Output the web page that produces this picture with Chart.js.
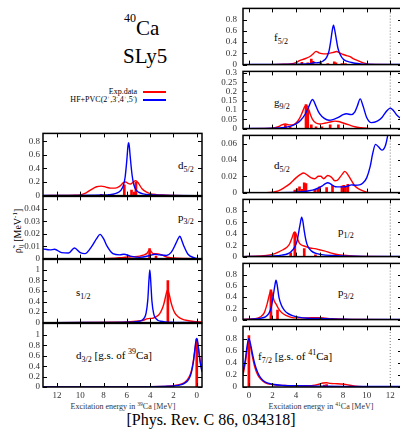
<!DOCTYPE html>
<html>
<head>
<meta charset="utf-8">
<script src="https://cdn.jsdelivr.net/npm/chart.js@4.4.0/dist/chart.umd.min.js"></script>
<style>
html, body { margin:0; padding:0; background:#fff; }
body { width:400px; height:430px; overflow:hidden; position:relative; }
canvas { position:absolute; }
.t { position:absolute; font-family:"Liberation Serif", serif; color:#000; white-space:nowrap; line-height:1; }
.t sub, .t sup { line-height:0; }
.p { font-size:11px; }
.p sub { font-size:8px; vertical-align:-3px; }
.p sup { font-size:8px; vertical-align:5px; }
.lg { font-size:8px; text-align:right; right:263px; }
.lg sup { font-size:5px; vertical-align:3px; }
.ln { position:absolute; left:143px; width:23px; height:1.5px; }
.xt { font-size:8px; transform:translateX(-50%); color:#333; }
.xt sup { font-size:5.5px; vertical-align:3px; }
</style>
</head>
<body>
<div class="t" style="left:124px;top:18px;font-size:21px"><sup style="font-size:12px;vertical-align:13px">40</sup>Ca</div>
<div class="t" style="left:123px;top:46px;font-size:21px">SLy5</div>
<div class="t lg" style="top:88px">Exp.data</div>
<div class="t lg" style="top:96px">HF+PVC(2<sup>+</sup>,3<sup>-</sup>,4<sup>+</sup>,5<sup>-</sup>)</div>
<div class="ln" style="top:91px;background:#f00"></div>
<div class="ln" style="top:99px;background:#00f"></div>
<div class="t" style="left:18px;top:231px;font-size:10px;transform:translate(-50%,-50%) rotate(-90deg)">ρ̃<sub style="font-size:7px;vertical-align:-2px">ij</sub> [MeV<sup style="font-size:7px;vertical-align:4px">-1</sup>]</div>
<div class="t p" style="left:178px;top:160px">d<sub>5/2</sub></div>
<div class="t p" style="left:178px;top:212px">p<sub>3/2</sub></div>
<div class="t p" style="left:76px;top:287px">s<sub>1/2</sub></div>
<div class="t p" style="left:76px;top:350px">d<sub>3/2</sub> [g.s. of <sup>39</sup>Ca]</div>
<div class="t p" style="left:274px;top:32px">f<sub>5/2</sub></div>
<div class="t p" style="left:274px;top:97px">g<sub>9/2</sub></div>
<div class="t p" style="left:274px;top:160px">d<sub>5/2</sub></div>
<div class="t p" style="left:338px;top:226px">p<sub>1/2</sub></div>
<div class="t p" style="left:338px;top:287px">p<sub>3/2</sub></div>
<div class="t p" style="left:258px;top:351px">f<sub>7/2</sub> [g.s. of <sup>41</sup>Ca]</div>
<div class="t xt" style="left:123px;top:403px">Excitation energy in <sup>39</sup>Ca [MeV]</div>
<div class="t xt" style="left:321px;top:403px">Excitation energy in <sup>41</sup>Ca [MeV]</div>
<div class="t" style="left:211px;top:412px;font-size:16px;transform:translateX(-50%)">[Phys. Rev. C 86, 034318]</div>
<script>
// ---- 39Ca (hole states), energies in MeV ----
const L_d52_hfE = [-0.45, 0, 2, 3, 4, 4.6, 5.0, 5.2, 5.4, 5.55, 5.7, 5.8, 5.85, 5.9, 6.0, 6.15, 6.3, 6.5, 6.7, 7.0, 7.5, 8, 9, 11, 13.2];
const L_d52_hf = [0, 0, 0.002, 0.005, 0.012, 0.025, 0.05, 0.08, 0.16, 0.3, 0.55, 0.74, 0.78, 0.74, 0.53, 0.27, 0.15, 0.08, 0.05, 0.028, 0.013, 0.008, 0.005, 0.003, 0.002];
const L_d52_expE = [-0.45, 0, 2, 3, 3.5, 4.0, 4.3, 4.7, 5.0, 5.25, 5.45, 5.7, 5.9, 6.1, 6.3, 6.6, 7.0, 7.4, 7.8, 8.2, 8.6, 9.1, 9.5, 10.0, 10.5, 11, 13.2];
const L_d52_exp = [0, 0, 0.003, 0.008, 0.015, 0.03, 0.05, 0.1, 0.18, 0.22, 0.2, 0.17, 0.18, 0.2, 0.19, 0.14, 0.11, 0.11, 0.125, 0.14, 0.13, 0.085, 0.04, 0.01, 0.005, 0.003, 0];
const L_d52_barE = [5.22, 5.37, 5.6, 6.22, 7.2, 7.5, 8.2];
const L_d52_bar = [0.2, 0.05, 0.08, 0.16, 0.015, 0.02, 0.02];

const L_p32_hfE = [-0.45, -0.2, 0.3, 0.75, 1.1, 1.3, 1.45, 1.6, 1.8, 2.2, 2.6, 3.2, 3.6, 4.0, 4.9, 5.7, 6.25, 6.6, 7.2, 7.7, 8.0, 8.3, 8.6, 9.0, 9.6, 10.0, 10.5, 11.0, 11.6, 12.2, 12.6, 13.2];
const L_p32_hf = [0, 0, 0.001, 0.0035, 0.01, 0.015, 0.018, 0.016, 0.012, 0.005, 0.0025, 0.003, 0.0035, 0.0025, 0.001, 0.002, 0.0035, 0.003, 0.004, 0.01, 0.016, 0.0195, 0.016, 0.01, 0.004, 0.0048, 0.0085, 0.0045, 0.0048, 0.0075, 0.007, 0.0078];
const L_p32_expE = [-0.45, 0, 1.0, 2.0, 2.6, 3.0, 3.3, 3.55, 3.75, 3.9, 4.03, 4.15, 4.3, 4.6, 4.9, 5.5, 6.3, 7.0, 8.0, 13.2];
const L_p32_exp = [0, 0, 0.0001, 0.0005, 0.0013, 0.003, 0.0038, 0.004, 0.004, 0.0055, 0.007, 0.006, 0.004, 0.0028, 0.002, 0.0015, 0.001, 0.0003, 0, 0];
const L_p32_barE = [3.5, 4.05];
const L_p32_bar = [0.002, 0.008];

const L_s12_hfE = [-0.45, 0, 1, 2, 2.7, 3.1, 3.35, 3.55, 3.7, 3.85, 3.95, 4.03, 4.1, 4.2, 4.35, 4.5, 4.7, 5.0, 5.5, 6, 8, 10, 13.2];
const L_s12_hf = [0, 0.001, 0.002, 0.005, 0.012, 0.025, 0.045, 0.09, 0.17, 0.41, 0.78, 1.0, 0.82, 0.44, 0.18, 0.09, 0.045, 0.023, 0.01, 0.006, 0.002, 0.001, 0];
const L_s12_expE = [-0.45, 0, 0.4, 0.8, 1.2, 1.6, 1.9, 2.1, 2.25, 2.4, 2.5, 2.6, 2.75, 2.9, 3.1, 3.3, 3.6, 3.85, 4.0, 4.3, 4.5, 5, 6, 7, 9, 13.2];
const L_s12_exp = [0.012, 0.018, 0.025, 0.04, 0.06, 0.11, 0.19, 0.3, 0.42, 0.57, 0.62, 0.57, 0.42, 0.3, 0.2, 0.14, 0.1, 0.08, 0.08, 0.07, 0.05, 0.03, 0.012, 0.006, 0.002, 0];
const L_s12_barE = [2.48];
const L_s12_bar = [0.8];

const L_d32_hfE = [-0.45, -0.3, -0.2, -0.1, 0, 0.1, 0.2, 0.3, 0.45, 0.6, 0.8, 1.0, 1.3, 1.6, 2.0, 2.5, 3.0, 4.0, 5.0, 6.0, 8.0, 10.0, 13.2];
const L_d32_hf = [0.29, 0.465, 0.64, 0.84, 0.93, 0.84, 0.64, 0.465, 0.29, 0.186, 0.115, 0.078, 0.047, 0.032, 0.02, 0.013, 0.009, 0.005, 0.003, 0.002, 0.001, 0.0008, 0.0005];
const L_d32_expE = [-0.45, -0.3, -0.2, -0.1, 0, 0.1, 0.2, 0.3, 0.45, 0.6, 0.8, 1.0, 1.3, 1.6, 2.0, 2.5, 3.0, 4.0, 5.0, 6.0, 8.0, 10.0, 13.2];
const L_d32_exp = [0.32, 0.49, 0.65, 0.8, 0.86, 0.8, 0.65, 0.49, 0.32, 0.22, 0.14, 0.096, 0.06, 0.04, 0.026, 0.017, 0.012, 0.007, 0.004, 0.003, 0.002, 0.001, 0.0005];
const L_d32_barE = [0];
const L_d32_bar = [0.92];

// ---- 41Ca (particle states) ----
const R_f52_hfE = [-0.5, 2, 4, 4.8, 5.3, 5.5, 5.7, 6.0, 6.3, 6.6, 6.8, 6.95, 7.05, 7.18, 7.3, 7.4, 7.55, 7.75, 8.0, 8.3, 8.6, 9.0, 9.5, 10, 11, 12, 13];
const R_f52_hf = [0, 0.002, 0.006, 0.01, 0.02, 0.035, 0.03, 0.038, 0.065, 0.13, 0.24, 0.42, 0.57, 0.7, 0.6, 0.48, 0.3, 0.18, 0.1, 0.06, 0.045, 0.025, 0.012, 0.006, 0.003, 0.002, 0.001];
const R_f52_expE = [-0.5, 2, 3, 3.5, 4, 4.3, 4.7, 5.15, 5.45, 5.7, 5.95, 6.2, 6.5, 6.9, 7.2, 7.45, 7.7, 8.0, 8.3, 8.6, 8.9, 9.2, 9.5, 9.8, 10.1, 10.5, 13];
const R_f52_exp = [0, 0, 0.005, 0.012, 0.035, 0.07, 0.1, 0.14, 0.19, 0.235, 0.21, 0.195, 0.19, 0.205, 0.22, 0.232, 0.21, 0.18, 0.16, 0.14, 0.1, 0.075, 0.05, 0.025, 0.008, 0.002, 0];
const R_f52_barE = [4.5, 5.0, 5.3, 5.45, 6.1, 6.7, 7.25, 7.4, 7.9, 8.2];
const R_f52_bar = [0.04, 0.03, 0.1, 0.06, 0.03, 0.02, 0.05, 0.03, 0.02, 0.02];

const R_g92_hfE = [-0.5, 2, 3, 3.5, 4.0, 4.4, 4.8, 5.1, 5.3, 5.4, 5.5, 5.7, 6.0, 6.4, 6.8, 7.2, 7.6, 8.0, 8.3, 8.7, 9.0, 9.2, 9.45, 9.7, 10.0, 10.4, 10.9, 11.3, 11.7, 12.0, 12.3, 12.6, 13];
const R_g92_hf = [0, 0.002, 0.006, 0.012, 0.025, 0.045, 0.08, 0.12, 0.15, 0.157, 0.15, 0.12, 0.08, 0.055, 0.045, 0.05, 0.06, 0.075, 0.08, 0.075, 0.09, 0.12, 0.16, 0.12, 0.06, 0.032, 0.04, 0.06, 0.095, 0.11, 0.095, 0.07, 0.05];
const R_g92_expE = [-0.5, 2, 2.5, 2.8, 3.1, 3.4, 3.7, 4.0, 4.3, 4.55, 4.75, 4.9, 5.05, 5.2, 5.4, 5.7, 6.0, 6.5, 7.0, 7.3, 7.6, 8.0, 8.5, 9.0, 9.5, 10.0, 10.5, 13];
const R_g92_exp = [0, 0.002, 0.01, 0.02, 0.025, 0.02, 0.02, 0.03, 0.055, 0.09, 0.12, 0.125, 0.11, 0.08, 0.05, 0.03, 0.025, 0.03, 0.037, 0.04, 0.038, 0.03, 0.02, 0.01, 0.005, 0.002, 0, 0];
const R_g92_barE = [3.1, 3.5, 4.85, 5.0, 5.3, 5.7, 6.2, 6.9, 7.6];
const R_g92_bar = [0.02, 0.01, 0.13, 0.1, 0.02, 0.01, 0.01, 0.02, 0.02];

const R_d52_hfE = [-0.5, 2, 4, 4.5, 5.0, 5.4, 5.8, 6.2, 6.5, 6.7, 6.9, 7.2, 7.5, 8.0, 8.4, 8.7, 9.0, 9.4, 9.7, 10.0, 10.3, 10.5, 10.75, 11.0, 11.3, 11.6, 11.85, 12.1, 12.5, 13];
const R_d52_hf = [0, 0, 0.0005, 0.001, 0.002, 0.003, 0.005, 0.008, 0.011, 0.012, 0.011, 0.008, 0.007, 0.007, 0.008, 0.0095, 0.009, 0.0095, 0.012, 0.018, 0.032, 0.047, 0.059, 0.056, 0.052, 0.058, 0.075, 0.1, 0.12, 0.12];
const R_d52_expE = [-0.5, 1.5, 2.0, 2.5, 3.0, 3.5, 4.0, 4.35, 4.65, 5.0, 5.3, 5.6, 5.9, 6.1, 6.35, 6.7, 7.0, 7.3, 7.5, 7.9, 8.15, 8.4, 8.7, 9.0, 9.4, 9.8, 10.2, 13];
const R_d52_exp = [0, 0, 0.0005, 0.002, 0.006, 0.011, 0.018, 0.022, 0.024, 0.021, 0.018, 0.017, 0.02, 0.02, 0.017, 0.021, 0.019, 0.0145, 0.015, 0.022, 0.026, 0.022, 0.015, 0.008, 0.004, 0.0015, 0, 0];
const R_d52_barE = [3.9, 4.1, 4.3, 4.5, 4.7, 4.85, 5.6, 5.85, 6.0, 6.6, 7.1, 7.9, 8.05, 8.2, 8.4];
const R_d52_bar = [0.003, 0.005, 0.007, 0.004, 0.012, 0.011, 0.003, 0.005, 0.007, 0.006, 0.009, 0.008, 0.009, 0.008, 0.01];

const R_p12_hfE = [-0.5, 1, 2, 2.8, 3.3, 3.6, 3.9, 4.1, 4.25, 4.38, 4.48, 4.58, 4.7, 4.85, 5.0, 5.3, 5.7, 6.2, 7, 8, 9, 10, 13];
const R_p12_hf = [0, 0.003, 0.01, 0.025, 0.05, 0.09, 0.17, 0.28, 0.45, 0.6, 0.69, 0.62, 0.45, 0.28, 0.18, 0.1, 0.055, 0.035, 0.02, 0.01, 0.005, 0.003, 0.001];
const R_p12_expE = [-0.5, 1, 1.5, 2.0, 2.5, 2.9, 3.2, 3.45, 3.65, 3.8, 3.9, 4.0, 4.15, 4.3, 4.6, 4.9, 5.2, 5.6, 6.0, 6.4, 6.8, 7.2, 7.6, 8.0, 8.5, 9, 10, 13];
const R_p12_exp = [0, 0.01, 0.02, 0.04, 0.08, 0.12, 0.16, 0.22, 0.32, 0.41, 0.43, 0.4, 0.3, 0.23, 0.19, 0.17, 0.15, 0.14, 0.12, 0.1, 0.075, 0.05, 0.035, 0.025, 0.015, 0.008, 0.002, 0];
const R_p12_barE = [3.55, 3.9, 4.7, 5.65];
const R_p12_bar = [0.065, 0.42, 0.14, 0.03];

const R_p32_hfE = [-0.5, 0.5, 1.0, 1.4, 1.7, 1.9, 2.05, 2.2, 2.3, 2.4, 2.55, 2.75, 3.0, 3.3, 3.7, 4.2, 5, 6, 7, 8, 10, 13];
const R_p32_hf = [0.003, 0.01, 0.025, 0.05, 0.11, 0.22, 0.4, 0.6, 0.7, 0.62, 0.4, 0.26, 0.17, 0.11, 0.07, 0.045, 0.025, 0.02, 0.012, 0.006, 0.002, 0.001];
const R_p32_expE = [-0.5, 0.5, 1.0, 1.3, 1.55, 1.75, 1.87, 2.0, 2.15, 2.3, 2.5, 2.8, 3.2, 3.6, 4.0, 4.5, 5.0, 5.5, 6.0, 6.5, 7.0, 8, 9, 13];
const R_p32_exp = [0.003, 0.015, 0.05, 0.12, 0.28, 0.45, 0.52, 0.45, 0.33, 0.28, 0.2, 0.12, 0.07, 0.04, 0.03, 0.03, 0.03, 0.035, 0.035, 0.025, 0.015, 0.005, 0.001, 0];
const R_p32_barE = [1.87, 2.43];
const R_p32_bar = [0.53, 0.17];

const R_f72_hfE = [-0.5, -0.3, -0.15, 0, 0.15, 0.3, 0.5, 0.75, 1.0, 1.4, 2.0, 3.0, 4.0, 6.0, 8.0, 10.0, 12.0, 13];
const R_f72_hf = [0.25, 0.45, 0.68, 0.8, 0.7, 0.55, 0.38, 0.24, 0.15, 0.08, 0.045, 0.025, 0.02, 0.015, 0.01, 0.008, 0.008, 0.01];
const R_f72_expE = [-0.5, -0.3, -0.15, 0, 0.15, 0.3, 0.5, 0.75, 1.0, 1.4, 2.0, 3.0, 4.0, 5.0, 5.6, 6.0, 6.3, 6.6, 6.9, 7.3, 7.8, 8.3, 8.8, 9.3, 10, 13];
const R_f72_exp = [0.2, 0.4, 0.62, 0.75, 0.65, 0.5, 0.33, 0.2, 0.13, 0.07, 0.04, 0.025, 0.02, 0.02, 0.03, 0.05, 0.065, 0.07, 0.06, 0.055, 0.05, 0.04, 0.02, 0.008, 0.002, 0];
const R_f72_barE = [0, 6.4, 6.6];
const R_f72_bar = [0.85, 0.03, 0.04];

// neutron separation energy marker in 41Ca
const sepE41 = 12;

// tick labels
const xTicks39 = [12, 10, 8, 6, 4, 2, 0];
const xTicks41 = [0, 2, 4, 6, 8, 10, 12];
const yTicks08 = [0, 0.2, 0.4, 0.6, 0.8];
const yTicks1 = [0, 0.2, 0.4, 0.6, 0.8, 1];
const yTicksP32 = [0, 0.01, 0.02, 0.03, 0.04];
const yTicksG92 = [0, 0.05, 0.1, 0.15, 0.2, 0.25, 0.3];
const yTicksD52 = [0, 0.02, 0.04, 0.06];

const RED = '#ff0000';
const BLUE = '#0000ff';
const font = { family: 'Liberation Serif', size: 9 };

const leftCol = { left: 43, right: 202, min: -0.45, max: 13.2, reverse: true, ticks: xTicks39, pad: 3 };
const rightCol = { left: 243, right: 402, min: -0.5, max: 13, reverse: false, ticks: xTicks41, pad: 6 };

function pts(xs, ys) {
  return xs.map((x, i) => ({ x: x, y: ys[i] }));
}

const framePlugin = {
  id: 'frame',
  afterDatasetsDraw(chart) {
    const ctx = chart.ctx, a = chart.chartArea, sx = chart.scales.x, sy = chart.scales.y;
    ctx.save();
    ctx.strokeStyle = '#000';
    ctx.lineWidth = 1;
    ctx.beginPath();
    sx.ticks.forEach(t => {
      const px = Math.round(sx.getPixelForValue(t.value)) + 0.5;
      ctx.moveTo(px, a.bottom); ctx.lineTo(px, a.bottom - 4);
      ctx.moveTo(px, a.top); ctx.lineTo(px, a.top + 4);
    });
    sy.ticks.forEach(t => {
      const py = Math.round(sy.getPixelForValue(t.value)) + 0.5;
      ctx.moveTo(a.left, py); ctx.lineTo(a.left + 4, py);
      ctx.moveTo(a.right, py); ctx.lineTo(a.right - 4, py);
    });
    ctx.stroke();
    ctx.lineWidth = 1.5;
    ctx.strokeRect(a.left, a.top, a.right - a.left, a.bottom - a.top);
    ctx.restore();
  }
};

function makePanel(p) {
  const col = p.col;
  const padL = 45, padT = 8, padR = 6, padB = 8, xh = p.xAxis ? 16 : 0;
  const w = col.right - col.left + padL + padR;
  const h = p.bottom - p.top + padT + padB + xh;
  const cv = document.createElement('canvas');
  cv.width = w; cv.height = h;
  cv.style.left = (col.left - padL) + 'px';
  cv.style.top = (p.top - padT) + 'px';
  cv.style.width = w + 'px'; cv.style.height = h + 'px';
  document.body.appendChild(cv);

  const datasets = [
    { type: 'line', data: pts(p.hfE, p.hf), borderColor: BLUE, borderWidth: 1.4, pointRadius: 0, fill: false, cubicInterpolationMode: 'monotone' },
    { type: 'bar', data: pts(p.barE, p.bar), backgroundColor: RED, barThickness: 2, borderWidth: 0 },
    { type: 'line', data: pts(p.expE, p.exp), borderColor: RED, borderWidth: 1.4, pointRadius: 0, fill: false, cubicInterpolationMode: 'monotone' }
  ];
  if (p.sep) {
    datasets.push({ type: 'line', data: [{ x: sepE41, y: 0 }, { x: sepE41, y: p.ymax }], borderColor: '#777', borderWidth: 1, borderDash: [1, 2], pointRadius: 0, fill: false });
  }

  new Chart(cv.getContext('2d'), {
    type: 'line',
    data: { datasets: datasets },
    options: {
      responsive: false,
      animation: false,
      events: [],
      layout: { padding: { left: 0, top: padT, right: padR, bottom: padB }, autoPadding: false },
      plugins: { legend: { display: false }, tooltip: { enabled: false } },
      scales: {
        x: {
          type: 'linear', min: col.min, max: col.max, reverse: col.reverse, offset: false,
          display: p.xAxis,
          grid: { display: false, drawTicks: false, offset: false },
          border: { display: false },
          ticks: { font: font, color: '#333', padding: 3, autoSkip: false, maxRotation: 0, callback: v => String(v) },
          afterBuildTicks: s => { s.ticks = col.ticks.map(v => ({ value: v })); },
          afterFit: s => { s.height = xh; }
        },
        y: {
          type: 'linear', min: 0, max: p.ymax,
          grid: { display: false, drawTicks: false },
          border: { display: false },
          ticks: { font: font, color: '#333', padding: col.pad, autoSkip: false, callback: v => String(v) },
          afterBuildTicks: s => { s.ticks = p.yTicks.map(v => ({ value: v })); },
          afterFit: s => { s.width = padL; }
        }
      }
    },
    plugins: [framePlugin]
  });
}

const panels = [
  { col: leftCol, top: 133, bottom: 196, ymax: 0.916, yTicks: yTicks08, hfE: L_d52_hfE, hf: L_d52_hf, expE: L_d52_expE, exp: L_d52_exp, barE: L_d52_barE, bar: L_d52_bar },
  { col: leftCol, top: 196, bottom: 259, ymax: 0.05, yTicks: yTicksP32, hfE: L_p32_hfE, hf: L_p32_hf, expE: L_p32_expE, exp: L_p32_exp, barE: L_p32_barE, bar: L_p32_bar },
  { col: leftCol, top: 259, bottom: 323, ymax: 1.2, yTicks: yTicks1, hfE: L_s12_hfE, hf: L_s12_hf, expE: L_s12_expE, exp: L_s12_exp, barE: L_s12_barE, bar: L_s12_bar },
  { col: leftCol, top: 323, bottom: 387, ymax: 1.22, yTicks: yTicks1, xAxis: true, hfE: L_d32_hfE, hf: L_d32_hf, expE: L_d32_expE, exp: L_d32_exp, barE: L_d32_barE, bar: L_d32_bar },
  { col: rightCol, top: 5, bottom: 68, ymax: 1.0, yTicks: yTicks08, sep: true, hfE: R_f52_hfE, hf: R_f52_hf, expE: R_f52_expE, exp: R_f52_exp, barE: R_f52_barE, bar: R_f52_bar },
  { col: rightCol, top: 68, bottom: 132, ymax: 0.308, yTicks: yTicksG92, sep: true, hfE: R_g92_hfE, hf: R_g92_hf, expE: R_g92_expE, exp: R_g92_exp, barE: R_g92_barE, bar: R_g92_bar },
  { col: rightCol, top: 132, bottom: 196, ymax: 0.07, yTicks: yTicksD52, sep: true, hfE: R_d52_hfE, hf: R_d52_hf, expE: R_d52_expE, exp: R_d52_exp, barE: R_d52_barE, bar: R_d52_bar },
  { col: rightCol, top: 196, bottom: 260, ymax: 1.0, yTicks: yTicks08, sep: true, hfE: R_p12_hfE, hf: R_p12_hf, expE: R_p12_expE, exp: R_p12_exp, barE: R_p12_barE, bar: R_p12_bar },
  { col: rightCol, top: 260, bottom: 323, ymax: 1.0, yTicks: yTicks08, sep: true, hfE: R_p32_hfE, hf: R_p32_hf, expE: R_p32_expE, exp: R_p32_exp, barE: R_p32_barE, bar: R_p32_bar },
  { col: rightCol, top: 323, bottom: 387, ymax: 1.0, yTicks: yTicks08, sep: true, xAxis: true, hfE: R_f72_hfE, hf: R_f72_hf, expE: R_f72_expE, exp: R_f72_exp, barE: R_f72_barE, bar: R_f72_bar }
];

panels.forEach(makePanel);
</script>
</body>
</html>
